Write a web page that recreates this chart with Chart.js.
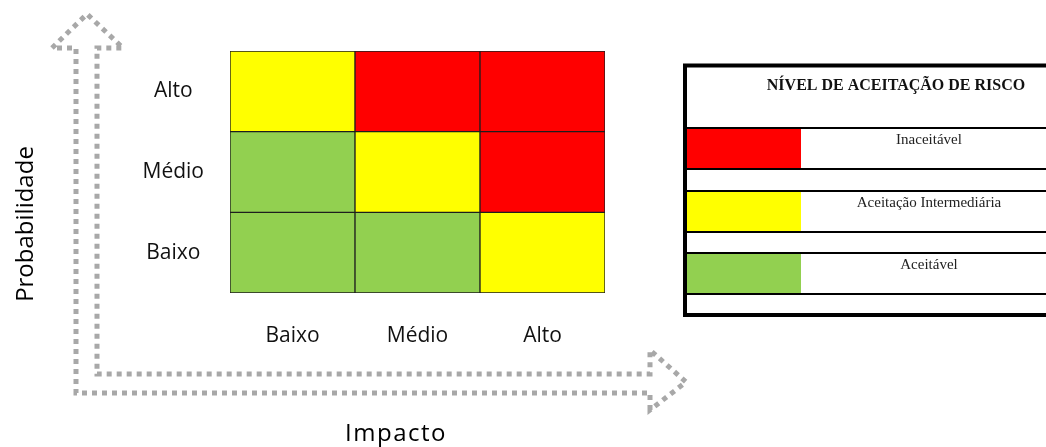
<!DOCTYPE html>
<html><head><meta charset="utf-8">
<script src="https://cdn.jsdelivr.net/npm/chart.js@4"></script>
<style>html,body{margin:0;padding:0;background:#fff;overflow:hidden}#wrap{width:1046px;height:447px;position:relative}</style>
</head><body><div id="wrap"><canvas id="c" width="1046" height="447"></canvas></div>
<script>
// ---- data ----
const impactLabels = ['Baixo', 'Médio', 'Alto'];            // x categories
const probabilityLabels = ['Baixo', 'Médio', 'Alto'];       // y rows, bottom to top
// risk level per cell (1 = Aceitável, 2 = Aceitação Intermediária, 3 = Inaceitável), by impact
const riskProbBaixo = [1, 1, 2];
const riskProbMedio = [1, 2, 3];
const riskProbAlto  = [2, 3, 3];
const cellUnits = [1, 1, 1];                                // each cell spans one probability unit
const levelNames = ['Aceitável', 'Aceitação Intermediária', 'Inaceitável'];
const levelColors = ['#92d050', '#ffff00', '#ff0000'];
const legendTitle = 'NÍVEL DE ACEITAÇÃO DE RISCO';
const legendOrder = [3, 2, 1];
const xTitle = 'Impacto';
const yTitle = 'Probabilidade';

const rows = [riskProbBaixo, riskProbMedio, riskProbAlto];

const datasets = rows.map((row, i) => ({
  label: probabilityLabels[i],
  data: cellUnits.slice(),
  backgroundColor: row.map(l => levelColors[l - 1]),
  borderColor: '#1e1e1e',
  borderWidth: 1,
  borderSkipped: false,
  barPercentage: 1,
  categoryPercentage: 1
}));

const decor = {
  id: 'decor',
  beforeDraw(chart) {
    const ctx = chart.ctx;
    ctx.save();
    ctx.strokeStyle = '#a8a8a8';
    ctx.lineWidth = 5;
    ctx.setLineDash([5, 5]);
    ctx.beginPath();
    ctx.moveTo(650, 410);
    ctx.lineTo(650, 393);
    ctx.lineTo(76, 393);
    ctx.lineTo(76, 48);
    ctx.lineTo(52, 48);
    ctx.lineTo(87, 14);
    ctx.lineTo(123, 48);
    ctx.lineTo(97, 48);
    ctx.lineTo(97, 374);
    ctx.lineTo(650, 374);
    ctx.lineTo(650, 350);
    ctx.lineTo(686, 382);
    ctx.closePath();
    ctx.stroke();
    ctx.restore();
  },
  afterDraw(chart) {
    const ctx = chart.ctx;
    ctx.save();
    // axis titles
    ctx.fillStyle = '#000';
    ctx.textAlign = 'center';
    ctx.textBaseline = 'alphabetic';
    ctx.font = '24px "Open Sans"';
    try { ctx.letterSpacing = '1.5px'; } catch (e) {}
    ctx.fillText(xTitle, 396, 441);
    try { ctx.letterSpacing = '0px'; } catch (e) {}
    ctx.save();
    ctx.translate(33, 224);
    ctx.rotate(-Math.PI / 2);
    ctx.fillText(yTitle, 0, 0);
    ctx.restore();

    // legend table
    const L = 685, R = 1052;
    ctx.fillStyle = '#fff';
    ctx.fillRect(L, 65, R - L, 250);
    const rowTops = [129, 192, 254];
    const rowH = 39;
    legendOrder.forEach((lvl, i) => {
      ctx.fillStyle = levelColors[lvl - 1];
      ctx.fillRect(687, rowTops[i], 114, rowH);
      ctx.fillStyle = '#222';
      ctx.font = '15px "Liberation Serif"';
      ctx.textAlign = 'center';
      ctx.fillText(levelNames[lvl - 1], 929, rowTops[i] + 15);
    });
    ctx.strokeStyle = '#000';
    ctx.lineWidth = 2;
    [128, 169, 191, 232, 253, 294].forEach(y => {
      ctx.beginPath(); ctx.moveTo(L, y); ctx.lineTo(R, y); ctx.stroke();
    });
    ctx.lineWidth = 4;
    ctx.strokeRect(L, 65.5, R - L, 249.5);
    ctx.fillStyle = '#111';
    ctx.font = 'bold 16px "Liberation Serif"';
    ctx.textAlign = 'center';
    ctx.fillText(legendTitle, 896, 90);
    ctx.restore();
  }
};

new Chart(document.getElementById('c'), {
  type: 'bar',
  data: { labels: impactLabels, datasets },
  options: {
    responsive: false,
    animation: false,
    devicePixelRatio: 1,
    layout: { padding: { top: 51, right: 441, left: 0, bottom: 0 } },
    plugins: { legend: { display: false }, tooltip: { enabled: false } },
    scales: {
      x: {
        type: 'category',
        stacked: true,
        grid: { display: false, drawTicks: false },
        border: { display: false },
        ticks: { font: { family: 'Open Sans', size: 21 }, color: '#111', padding: 30, maxRotation: 0 },
        afterFit(s) { s.height = 154; }
      },
      y: {
        type: 'linear',
        stacked: true,
        min: 0,
        max: probabilityLabels.length,
        grid: { display: false, drawTicks: false },
        border: { display: false },
        afterBuildTicks(s) { s.ticks = probabilityLabels.map((_, i) => ({ value: i + 0.5 })); },
        ticks: {
          font: { family: 'Open Sans', size: 21 },
          color: '#111',
          padding: 26,
          crossAlign: 'center',
          callback: v => probabilityLabels[Math.floor(v)]
        },
        afterFit(s) { s.width = 230; }
      }
    }
  },
  plugins: [decor]
});
</script>
</body></html>
